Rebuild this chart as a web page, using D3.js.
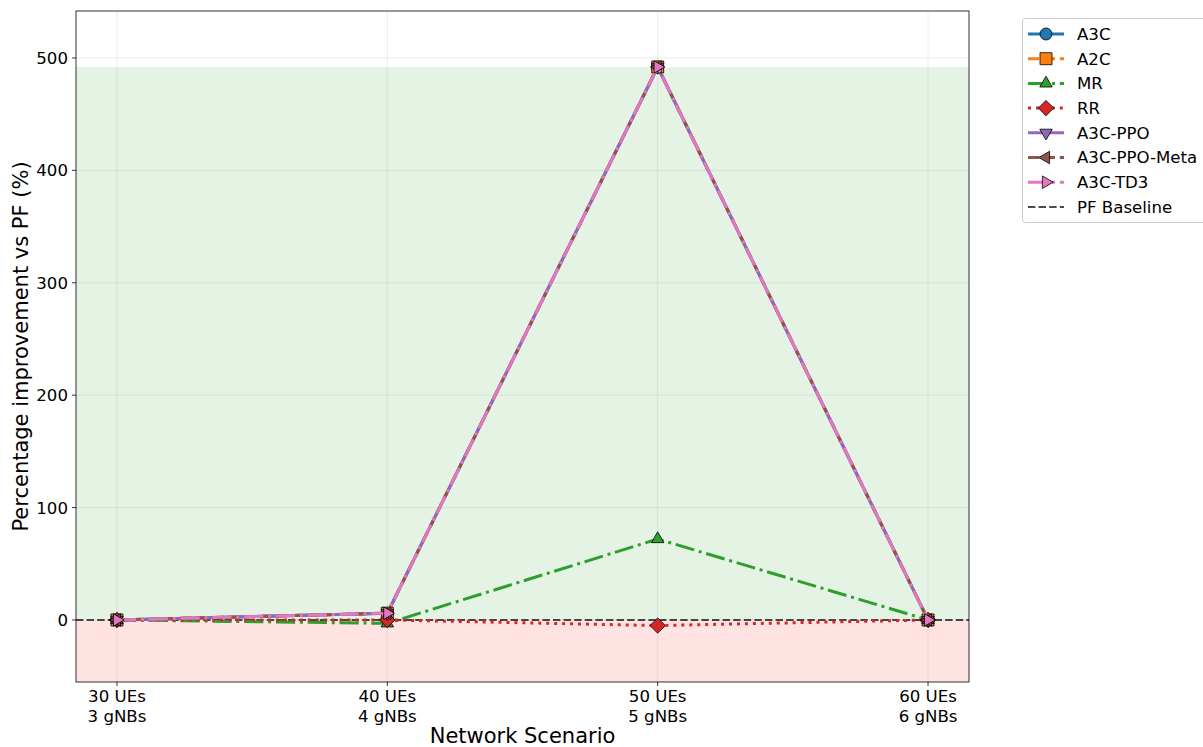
<!DOCTYPE html>
<html><head><meta charset="utf-8">
<script src="https://cdn.jsdelivr.net/npm/d3@7/dist/d3.min.js"></script>
<style>body{margin:0;background:#fff;font-family:"DejaVu Sans",sans-serif;}</style>
</head><body><svg id="c" width="1203" height="747"></svg>
<script>
const categories = [["30 UEs","3 gNBs"],["40 UEs","4 gNBs"],["50 UEs","5 gNBs"],["60 UEs","6 gNBs"]];
const seriesNames = ["A3C","A2C","MR","RR","A3C-PPO","A3C-PPO-Meta","A3C-TD3"];
const a3c = [0, 6, 492, 0];
const a2c = [0, 6, 492, 0];
const mr = [0, -3, 72, 0];
const rr = [0, 0, -5, 0];
const a3cPpo = [0, 6, 492, 0];
const a3cPpoMeta = [0, 6, 492, 0];
const a3cTd3 = [0, 6, 492, 0];
const yTicks = [0,100,200,300,400,500];
const colors = ["#1f77b4","#ff7f0e","#2ca02c","#d62728","#9467bd","#8c564b","#e377c2"];
const dashes = [null,"11.1,4.8","19.2,4.8,3,4.8","3,4.95",null,"11.1,4.8","19.2,4.8,3,4.8"];
const markers = ["circle","square","triangleUp","diamond","triangleDown","triangleLeft","triangleRight"];
const allValues = [a3c,a2c,mr,rr,a3cPpo,a3cPpoMeta,a3cTd3];

const svg = d3.select("#c");
const L=76,R=969,T=11,B=682;
const x = d3.scaleLinear().domain([-0.1515,3.1515]).range([L,R]);
const y = d3.scaleLinear().domain([-55.2,541.8]).range([B,T]);
const maxV = d3.max(allValues.flat());

// shaded regions
svg.append("rect").attr("x",L).attr("width",R-L).attr("y",y(maxV)).attr("height",y(0)-y(maxV)).attr("fill","#2ca02c").attr("opacity",0.12);
svg.append("rect").attr("x",L).attr("width",R-L).attr("y",y(0)).attr("height",B-y(0)).attr("fill","#ff0000").attr("opacity",0.11);

// grid
const g = svg.append("g");
yTicks.forEach(t=>g.append("line").attr("x1",L).attr("x2",R).attr("y1",y(t)).attr("y2",y(t)).attr("stroke","#b0b0b0").attr("stroke-opacity",0.3).attr("stroke-width",0.8));
categories.forEach((c,i)=>g.append("line").attr("y1",T).attr("y2",B).attr("x1",x(i)).attr("x2",x(i)).attr("stroke","#b0b0b0").attr("stroke-opacity",0.3).attr("stroke-width",0.8));

// baseline
svg.append("line").attr("x1",L).attr("x2",R).attr("y1",y(0)).attr("y2",y(0)).attr("stroke","#000").attr("stroke-opacity",0.7).attr("stroke-width",2).attr("stroke-dasharray","7.4,3.2");

function markerPath(type,size){
  const s=size;
  switch(type){
    case "circle": return d3.symbol(d3.symbolCircle, s*s*Math.PI/4)();
    case "square": return `M${-s/2},${-s/2}H${s/2}V${s/2}H${-s/2}Z`;
    case "diamond": {const r=s*0.64; return `M0,${-r}L${r},0L0,${r}L${-r},0Z`;}
    case "triangleUp": {const r=s*0.6; return `M0,${-r}L${r*0.87},${r*0.5}L${-r*0.87},${r*0.5}Z`;}
    case "triangleDown": {const r=s*0.6; return `M0,${r}L${r*0.87},${-r*0.5}L${-r*0.87},${-r*0.5}Z`;}
    case "triangleLeft": {const r=s*0.6; return `M${-r},0L${r*0.5},${-r*0.87}L${r*0.5},${r*0.87}Z`;}
    case "triangleRight": {const r=s*0.6; return `M${r},0L${-r*0.5},${-r*0.87}L${-r*0.5},${r*0.87}Z`;}
  }
}

const line = d3.line().x((d,i)=>x(i)).y(d=>y(d));
allValues.forEach((vals,k)=>{
  const p = svg.append("path").datum(vals).attr("d",line).attr("fill","none")
    .attr("stroke",colors[k]).attr("stroke-width",3);
  if(dashes[k]) p.attr("stroke-dasharray",dashes[k]);
  vals.forEach((v,i)=>{
    svg.append("path").attr("d",markerPath(markers[k],12)).attr("transform",`translate(${x(i)},${y(v)})`)
      .attr("fill",colors[k]).attr("stroke","#000").attr("stroke-width",0.8);
  });
});

// frame
svg.append("rect").attr("x",L).attr("y",T).attr("width",R-L).attr("height",B-T).attr("fill","none").attr("stroke","#000").attr("stroke-width",0.8);

// y axis ticks
yTicks.forEach(t=>{
  svg.append("line").attr("x1",L-4).attr("x2",L).attr("y1",y(t)).attr("y2",y(t)).attr("stroke","#000").attr("stroke-width",0.8);
  svg.append("text").attr("x",L-8).attr("y",y(t)).attr("dy","0.36em").attr("text-anchor","end").attr("font-size",16.6).attr("fill","#000").text(t);
});
categories.forEach((c,i)=>{
  svg.append("line").attr("x1",x(i)).attr("x2",x(i)).attr("y1",B).attr("y2",B+4).attr("stroke","#000").attr("stroke-width",0.8);
  const t = svg.append("text").attr("x",x(i)).attr("y",B+20).attr("text-anchor","middle").attr("font-size",16.6).attr("fill","#000");
  c.forEach((s,j)=>t.append("tspan").attr("x",x(i)).attr("dy",j?19.5:0).text(s));
});
svg.append("text").attr("x",(L+R)/2).attr("y",743).attr("text-anchor","middle").attr("font-size",21).text("Network Scenario");
svg.append("text").attr("transform",`translate(28,${(T+B)/2}) rotate(-90)`).attr("text-anchor","middle").attr("font-size",21).text("Percentage improvement vs PF (%)");

// legend
const lg = svg.append("g");
lg.append("rect").attr("x",1022.5).attr("y",18.5).attr("width",190).attr("height",204).attr("rx",3).attr("fill","#fff").attr("stroke","#ccc").attr("stroke-width",1);
const names = seriesNames.concat(["PF Baseline"]);
names.forEach((n,k)=>{
  const yy = 34 + k*24.7;
  const ln = lg.append("line").attr("x1",1028).attr("x2",1064).attr("y1",yy).attr("y2",yy);
  if(k<7){
    ln.attr("stroke",colors[k]).attr("stroke-width",3);
    if(dashes[k]) ln.attr("stroke-dasharray",dashes[k]);
    lg.append("path").attr("d",markerPath(markers[k],12)).attr("transform",`translate(1046,${yy})`).attr("fill",colors[k]).attr("stroke","#000").attr("stroke-width",0.8);
  } else {
    ln.attr("stroke","#000").attr("stroke-opacity",0.7).attr("stroke-width",2).attr("stroke-dasharray","7.4,3.2");
  }
  lg.append("text").attr("x",1077).attr("y",yy).attr("dy","0.36em").attr("font-size",16.6).text(n);
});
</script></body></html>
